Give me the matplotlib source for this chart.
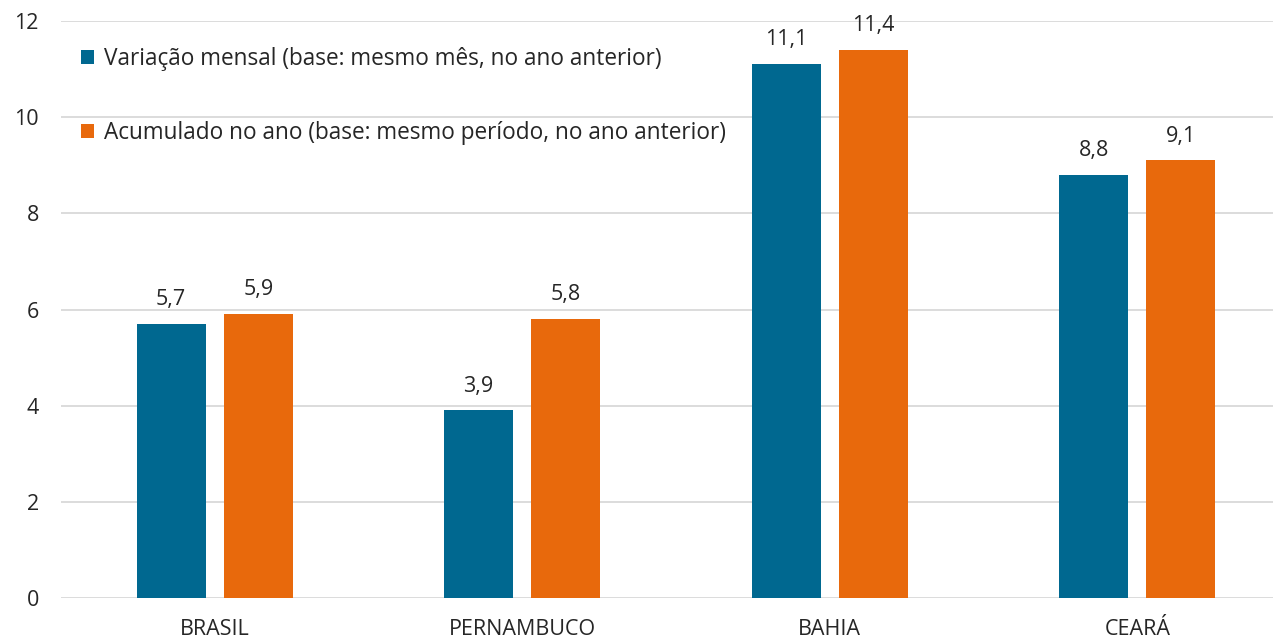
import matplotlib.pyplot as plt
from matplotlib.patches import Patch
import numpy as np

plt.rcParams['font.family'] = ['Open Sans', 'DejaVu Sans']

categorias = ["BRASIL", "PERNAMBUCO", "BAHIA", "CEARÁ"]
variacao_mensal = [5.7, 3.9, 11.1, 8.8]
acumulado_ano = [5.9, 5.8, 11.4, 9.1]
serie_nomes = ["Variação mensal (base: mesmo mês, no ano anterior)",
               "Acumulado no ano (base: mesmo período, no ano anterior)"]
y_ticks = [0, 2, 4, 6, 8, 10, 12]

azul = "#006890"
laranja = "#E8690C"
texto = "#262626"

fig = plt.figure(figsize=(12.73, 6.42), dpi=100)
# axes run a little past the right edge of the figure
ax = fig.add_axes([61 / 1273, 44 / 642, 1230 / 1273, 577 / 642])

x = np.arange(len(categorias))
largura = 0.224
desloc = 0.142

b1 = ax.bar(x - desloc, variacao_mensal, largura, color=azul, zorder=3)
b2 = ax.bar(x + desloc, acumulado_ano, largura, color=laranja, zorder=3)

for barras in (b1, b2):
    for b in barras:
        v = b.get_height()
        ax.annotate(f"{v:.1f}".replace(".", ","),
                    (b.get_x() + b.get_width() / 2, v),
                    xytext=(0, 10), textcoords="offset points",
                    ha="center", va="bottom", fontsize=15.5, color=texto)

ax.set_xlim(-0.5, len(categorias) - 0.5)
ax.set_ylim(0, 12)
ax.set_yticks(y_ticks)
ax.set_yticklabels([str(t) for t in y_ticks])
ax.set_xticks(x)
ax.set_xticklabels(categorias)
ax.tick_params(axis="both", length=0, labelsize=15.5, colors=texto)
ax.tick_params(axis="y", pad=16)
ax.tick_params(axis="x", pad=15)
ax.yaxis.grid(True, color="#D9D9D9", linewidth=1.3, zorder=0)
for s in ax.spines.values():
    s.set_visible(False)

handles = [Patch(facecolor=azul), Patch(facecolor=laranja)]
ax.legend(handles, serie_nomes, loc="upper left", bbox_to_anchor=(0.0, 0.99),
          frameon=False, fontsize=16.3, handlelength=0.55, handleheight=0.55,
          handletextpad=0.45, labelspacing=2.2, labelcolor=texto)

fig.savefig("out.png", dpi=100)
